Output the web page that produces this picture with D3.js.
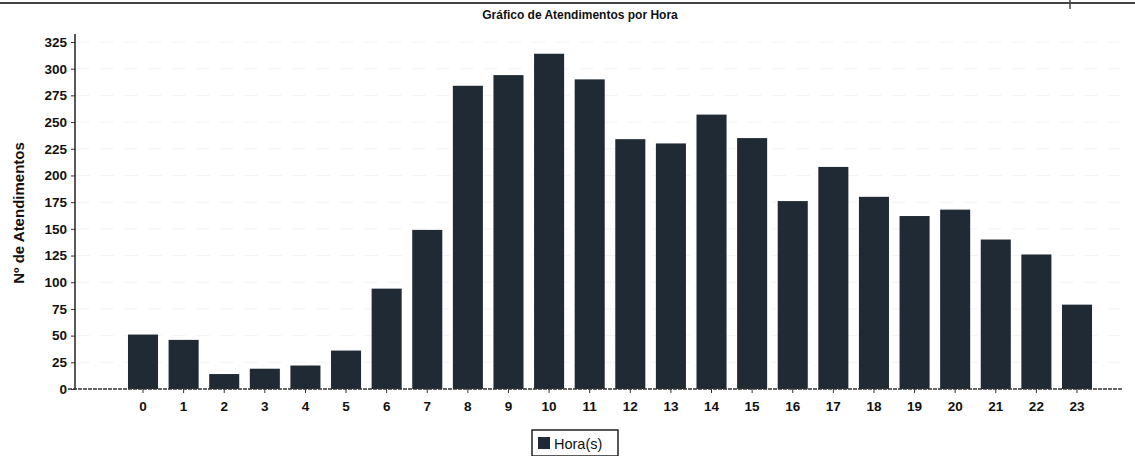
<!DOCTYPE html>
<html>
<head>
<meta charset="utf-8">
<script src="https://cdn.jsdelivr.net/npm/d3@7"></script>
<style>
  body { margin: 0; background: #fff; }
  svg { display: block; font-family: "Liberation Sans", Arial, sans-serif; }
</style>
</head>
<body>
<svg id="chart" width="1135" height="456"></svg>
<script>
// Hours of the day and count per hour
var hours = ["0","1","2","3","4","5","6","7","8","9","10","11","12","13","14","15","16","17","18","19","20","21","22","23"];
var counts = [51, 46, 14, 19, 22, 36, 94, 149, 284, 294, 314, 290, 234, 230, 257, 235, 176, 208, 180, 162, 168, 140, 126, 79];
var yTicks = [0, 25, 50, 75, 100, 125, 150, 175, 200, 225, 250, 275, 300, 325];

var svg = d3.select("#chart");
var barColor = "#1f2a34";

// scanned page border at the top
svg.append("line").attr("x1", 0).attr("x2", 1135).attr("y1", 3).attr("y2", 3)
    .attr("stroke", "#444").attr("stroke-width", 2);
svg.append("line").attr("x1", 1070).attr("x2", 1070).attr("y1", 0).attr("y2", 9)
    .attr("stroke", "#444").attr("stroke-width", 1.5);

// Scales
var x = d3.scaleBand()
    .domain(hours)
    .range([122.7, 1097.3])
    .paddingInner(0.26)
    .paddingOuter(0.13);

var y = d3.scaleLinear()
    .domain([0, 325])
    .range([389, 42]);

// faint gridlines
svg.append("g").selectAll("line")
    .data(yTicks.slice(1))
    .enter().append("line")
    .attr("x1", 76).attr("x2", 1120)
    .attr("y1", d => y(d)).attr("y2", d => y(d))
    .attr("stroke", "#f4f4f4")
    .attr("stroke-dasharray", "14,10");

// Bars
svg.selectAll(".bar")
    .data(counts)
    .enter().append("rect")
    .attr("class", "bar")
    .attr("x", (d, i) => x(hours[i]))
    .attr("width", x.bandwidth())
    .attr("y", d => y(d))
    .attr("height", d => y(0) - y(d))
    .attr("fill", barColor);

// Y axis
var yAxis = svg.append("g")
    .attr("transform", "translate(75,0)")
    .call(d3.axisLeft(y).tickValues(yTicks).tickSize(4).tickPadding(4));
yAxis.select(".domain").remove();
yAxis.append("line").attr("x1", 0).attr("x2", 0).attr("y1", 34).attr("y2", 390)
    .attr("stroke", "#222").attr("stroke-width", 1.5);
yAxis.selectAll(".tick line").attr("stroke", "#333");
yAxis.selectAll("text")
    .attr("fill", "#111")
    .style("font-size", "13.5px")
    .style("font-weight", "bold");

// X axis
var xAxis = svg.append("g")
    .attr("transform", "translate(0,389)")
    .call(d3.axisBottom(x).tickSize(4).tickPadding(8));
xAxis.select(".domain").remove();
xAxis.append("line").attr("x1", 68).attr("x2", 1122).attr("y1", 0).attr("y2", 0)
    .attr("stroke", "#333").attr("stroke-width", 1.5)
    .attr("stroke-dasharray", "4,1");
xAxis.selectAll(".tick line").attr("stroke", "#333");
xAxis.selectAll("text")
    .attr("fill", "#111")
    .style("font-size", "13.5px")
    .style("font-weight", "bold");

// Title
svg.append("text")
    .attr("x", 580)
    .attr("y", 19)
    .attr("text-anchor", "middle")
    .style("font-size", "12px")
    .style("font-weight", "bold")
    .attr("fill", "#111")
    .text("Gráfico de Atendimentos por Hora");

// Y axis title
svg.append("text")
    .attr("transform", "translate(24,213) rotate(-90)")
    .attr("text-anchor", "middle")
    .style("font-size", "15px")
    .style("font-weight", "bold")
    .attr("fill", "#111")
    .text("Nº de Atendimentos");

// Legend
var legend = svg.append("g").attr("transform", "translate(532,430)");
legend.append("rect")
    .attr("width", 86).attr("height", 26)
    .attr("fill", "#fff").attr("stroke", "#222").attr("stroke-width", 1.5);
legend.append("rect")
    .attr("x", 6).attr("y", 7).attr("width", 12).attr("height", 12)
    .attr("fill", barColor);
legend.append("text")
    .attr("x", 22).attr("y", 19)
    .style("font-size", "14.5px")
    .attr("fill", "#111")
    .text("Hora(s)");
</script>
</body>
</html>
